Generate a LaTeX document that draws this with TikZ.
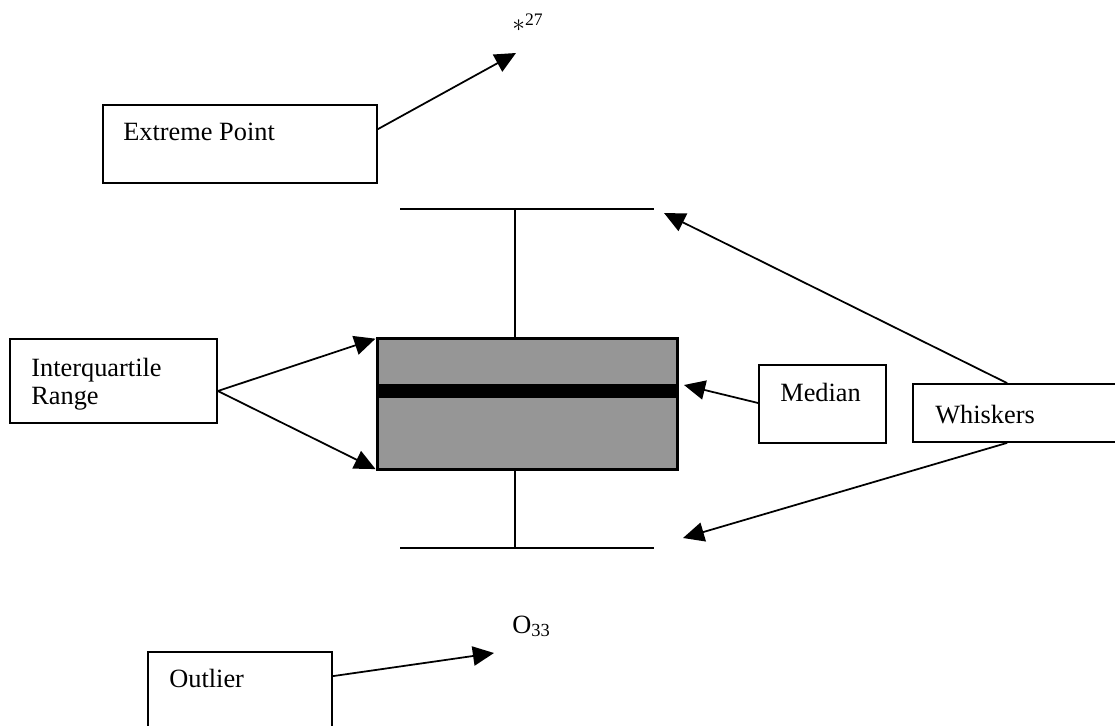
\documentclass[tikz,border=0pt]{standalone}
\usepackage{fontspec}
\setmainfont{Liberation Serif}
\usetikzlibrary{arrows.meta,calc,fit}
\definecolor{boxgray}{RGB}{150,150,150}
\tikzset{
  labelbox/.style={draw, line width=1pt, inner sep=0pt},
  lbl/.style={anchor=base west, inner sep=0pt, font=\fontsize{15}{16}\selectfont},
  conn/.style={line width=1pt, -{Triangle[length=12pt,width=11pt]}},
  stroke/.style={line width=1pt}
}
\begin{document}
\begin{tikzpicture}[x=0.02cm,y=-0.02cm]
\useasboundingbox (0,0) rectangle (1115,726);
% label boxes
\node[labelbox, fit={(103,105) (377,183)}] (ext) {};
\node[lbl] (extt) at (123,141) {Extreme Point};
\node[labelbox, fit={(10,339) (217,423)}] (iqr) {};
\node[lbl, align=left, anchor=north west] (iqrt) at (31,358) {Interquartile\\Range};
\node[labelbox, fit={(759,365) (886,443)}] (med) {};
\node[lbl] (medt) at (780,401) {Median};
\node[labelbox, fit={(913,384) (1130,442)}] (wh) {};
\node[lbl] (wht) at (935,423) {Whiskers};
\node[labelbox, fit={(148,652) (332,760)}] (out) {};
\node[lbl] (outt) at (169,687) {Outlier};
% point labels
\node[lbl] (ast) at (512,32) {$\ast$\raisebox{0.55ex}{\fontsize{10}{10}\selectfont 27}};
\node[lbl] (o33) at (512,633) {O\textsubscript{33}};
% box plot
\node[draw, stroke, fill=boxgray, inner sep=0pt, fit={(378,339) (677,469)}] (box) {};
\fill (378,384) rectangle (677,398);
\draw[stroke] (box.north west) rectangle (box.south east);
\draw[stroke] (400,209) -- (654,209);
\draw[stroke] (515,209) -- (515,339);
\draw[stroke] (515,469) -- (515,548);
\draw[stroke] (400,548) -- (654,548);
% arrow end points
\coordinate (extT) at (516,53);
\coordinate (medT) at (684,385);
\coordinate (whT1) at (664,213);
\coordinate (whT2) at (683,538);
\coordinate (outT) at (494,653);
% connectors
\draw[conn] ($(ext.north east)+(0,25)$) -- (extT);
\draw[conn, shorten >=1pt] ($(iqr.east)+(0,10)$) -- (box.north west);
\draw[conn, shorten >=1pt] ($(iqr.east)+(0,10)$) -- (box.south west);
\draw[conn] ($(med.west)+(0,-1)$) -- (medT);
\draw[conn] ($(wh.north west)+(95,0)$) -- (whT1);
\draw[conn] ($(wh.south west)+(95,0)$) -- (whT2);
\draw[conn] ($(out.north east)+(0,25)$) -- (outT);
\end{tikzpicture}
\end{document}
